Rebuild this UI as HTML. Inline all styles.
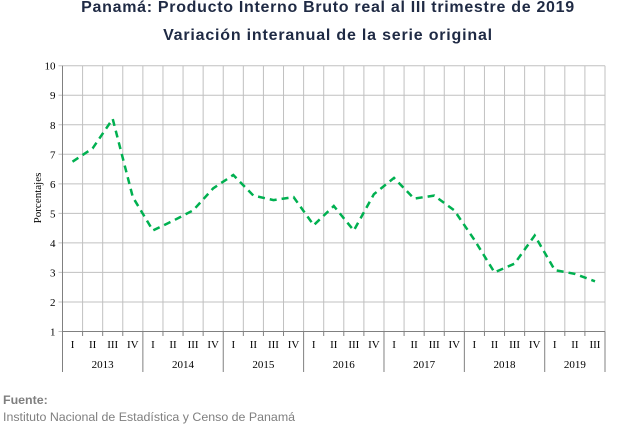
<!DOCTYPE html>
<html><head><meta charset="utf-8"><style>
html,body{margin:0;padding:0;background:#fff;width:632px;height:424px;overflow:hidden}
svg text{font-family:"Liberation Serif",serif}
</style></head><body>
<svg width="632" height="424" viewBox="0 0 632 424" xmlns="http://www.w3.org/2000/svg">
<text x="328" y="12" text-anchor="middle" style="font-family:'Liberation Sans',sans-serif;font-weight:bold;font-size:16px;letter-spacing:0.7px" fill="#1f2a44">Panamá: Producto Interno Bruto real al III trimestre de 2019</text>
<text x="328" y="40" text-anchor="middle" style="font-family:'Liberation Sans',sans-serif;font-weight:bold;font-size:16px;letter-spacing:0.8px" fill="#1f2a44">Variación interanual de la serie original</text>
<g id="grid"></g>
<g id="axes"></g>
<g id="series"></g>
<text transform="translate(41,198) rotate(-90)" text-anchor="middle" font-size="11" fill="#000">Porcentajes</text>
<text x="3" y="404" style="font-family:'Liberation Sans',sans-serif;font-weight:bold;font-size:12.4px" fill="#7f7f7f">Fuente:</text>
<text x="3" y="421" style="font-family:'Liberation Sans',sans-serif;font-size:12.4px" fill="#7f7f7f">Instituto Nacional de Estadística y Censo de Panamá</text>
</svg>
<script>
const years = ["2013","2014","2015","2016","2017","2018","2019"];
const quarters = ["I","II","III","IV"];
const values = [6.75,7.2,8.2,5.55, 4.42,4.75,5.1,5.85, 6.3,5.6,5.45,5.55, 4.6,5.25,4.42,5.65, 6.2,5.5,5.6,5.1, 4.1,3.0,3.3,4.25, 3.08,2.95,2.7];
const yTicks = [1,2,3,4,5,6,7,8,9,10];
const NS="http://www.w3.org/2000/svg";
const L=62.5,R=605,T=65.7,B=331.5,ymin=1,ymax=10;
const n=values.length, cw=(R-L)/n;
const xs=i=>L+cw*(i+0.5);
const ys=v=>B-(v-ymin)/(ymax-ymin)*(B-T);
function mk(tag,attrs,parent){const e=document.createElementNS(NS,tag);for(const k in attrs)e.setAttribute(k,attrs[k]);parent.appendChild(e);return e;}
const grid=document.getElementById('grid'),axes=document.getElementById('axes'),ser=document.getElementById('series');
yTicks.forEach(t=>{
  const ln=mk('line',{x1:L-4,x2:R,y1:ys(t),y2:ys(t),stroke:'#c0c0c0','stroke-width':1},grid);
  
  
  const tx=mk('text',{x:L-7,y:ys(t)+4,'text-anchor':'end','font-size':11,fill:'#000'},axes);
  tx.textContent=t;
  
  
});
for(let i=0;i<=n;i++){
  const x=L+cw*i;
  const ln=mk('line',{x1:x,x2:x,y1:T,y2:B,stroke:'#c0c0c0','stroke-width':1},grid);
  
  
  const yr=(i%4===0)||i===n;
  const tk=mk('line',{x1:x,x2:x,y1:B,y2:yr?372:336,stroke:'#808080','stroke-width':1},axes);
  
  
}
mk('line',{x1:L,x2:L,y1:T,y2:B,stroke:'#808080'},axes);
mk('line',{x1:L,x2:R,y1:B,y2:B,stroke:'#808080'},axes);
for(let i=0;i<n;i++){
  const tx=mk('text',{x:xs(i),y:348,'text-anchor':'middle','font-size':11,fill:'#000'},axes);
  tx.textContent=quarters[i%4];
  
  
}
years.forEach((y,j)=>{
  const s=j*4,e=Math.min(n,s+4);
  const tx=mk('text',{x:L+cw*(s+e)/2,y:368,'text-anchor':'middle','font-size':11,fill:'#000'},axes);
  tx.textContent=y;
  
  
});
const pts=values.map((v,i)=>xs(i).toFixed(1)+','+ys(v).toFixed(1)).join(' ');
const pl=mk('polyline',{points:pts,fill:'none',stroke:'#00b050','stroke-width':2.5,'stroke-dasharray':'7,5'},ser);


</script>
</body></html>
